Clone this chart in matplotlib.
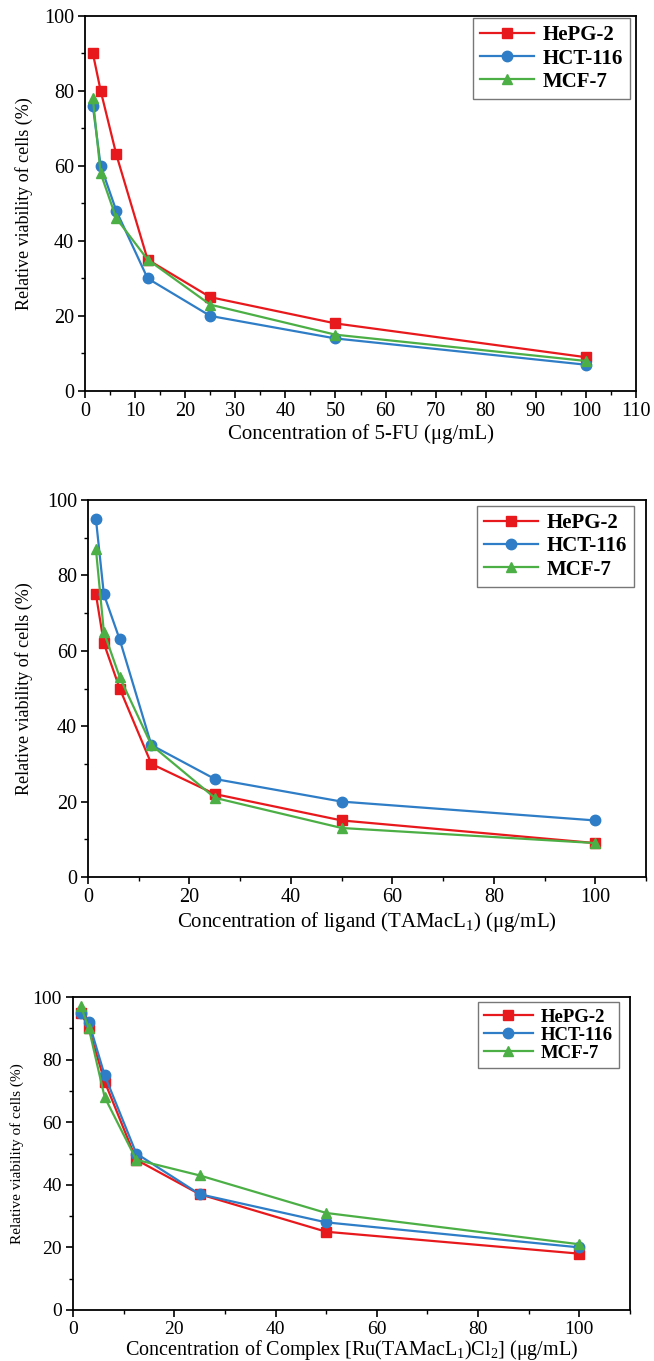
import numpy as np
import matplotlib as mpl
mpl.use("Agg")
from matplotlib import pyplot as plt
from matplotlib.ticker import MultipleLocator

plt.rcParams["font.family"] = ["Liberation Serif", "DejaVu Serif"]
plt.rcParams["mathtext.fontset"] = "custom"
plt.rcParams["mathtext.rm"] = "Liberation Serif"

conc = [1.56, 3.125, 6.25, 12.5, 25, 50, 100]
cells = ["HePG-2", "HCT-116", "MCF-7"]

fu_hepg2 = [90, 80, 63, 35, 25, 18, 9]
fu_hct116 = [76, 60, 48, 30, 20, 14, 7]
fu_mcf7 = [78, 58, 46, 35, 23, 15, 8]

lig_hepg2 = [75, 62, 50, 30, 22, 15, 9]
lig_hct116 = [95, 75, 63, 35, 26, 20, 15]
lig_mcf7 = [87, 65, 53, 35, 21, 13, 9]

cx_hepg2 = [95, 90, 73, 48, 37, 25, 18]
cx_hct116 = [95, 92, 75, 50, 37, 28, 20]
cx_mcf7 = [97, 90, 68, 48, 43, 31, 21]

xlabels = ["Concentration of 5-FU (\u03bcg/mL)",
           "Concentration of ligand (TAMacL$_\\mathregular{1}$) (\u03bcg/mL)",
           "Concentration of Complex [Ru(TAMacL$_\\mathregular{1}$)Cl$_\\mathregular{2}$] (\u03bcg/mL)"]

colors = ["#e8191c", "#2e7dc6", "#4caf46"]
markers = ["s", "o", "^"]

W, H = 654, 1361
fig = plt.figure(figsize=(W / 100, H / 100), dpi=100)


def px_axes(left, right, top, bottom):
    return fig.add_axes([left / W, 1 - bottom / H, (right - left) / W, (bottom - top) / H])


def draw_panel(ax, series, xlabel, xmajor, tfs, xfs, yfs, lfs, ylab_x, leg_anchor, lspace, xpad=2):
    for vals, name, c, m in zip(series, cells, colors, markers):
        ax.plot(conc, vals, color=c, lw=1.6, marker=m, ms=7.5, label=name)
    ax.set_xlim(0, 110)
    ax.set_ylim(0, 100)
    ax.xaxis.set_major_locator(MultipleLocator(xmajor))
    ax.xaxis.set_minor_locator(MultipleLocator(xmajor / 2))
    ax.yaxis.set_major_locator(MultipleLocator(20))
    ax.yaxis.set_minor_locator(MultipleLocator(10))
    ax.tick_params(which="major", direction="out", length=5, width=1.2, labelsize=tfs, pad=3)
    ax.tick_params(which="minor", direction="out", length=3, width=1.0)
    for s in ax.spines.values():
        s.set_linewidth(1.3)
    ax.set_xlabel(xlabel, fontsize=xfs, labelpad=xpad)
    ax.set_ylabel("Relative viability of cells (%)", fontsize=yfs)
    ax.yaxis.set_label_coords(ylab_x, 0.5)
    leg = ax.legend(loc="upper right", bbox_to_anchor=leg_anchor, prop={"weight": "bold", "size": lfs},
                    fancybox=False, edgecolor="#555555", handlelength=2.6,
                    borderaxespad=0.0, labelspacing=lspace, handletextpad=0.4,
                    borderpad=0.35)
    leg.get_frame().set_linewidth(1.0)


ax1 = px_axes(85, 636, 15.6, 391)
draw_panel(ax1, [fu_hepg2, fu_hct116, fu_mcf7], xlabels[0], 10, 14.5, 15, 13, 15,
           -0.095, (1 - 6 / 551, 1 - 2.5 / 375), 0.15)

ax2 = px_axes(88, 646, 500, 877)
draw_panel(ax2, [lig_hepg2, lig_hct116, lig_mcf7], xlabels[1], 20, 14.5, 15, 13, 15,
           -0.098, (1 - 12 / 558, 1 - 6 / 377), 0.15)

ax3 = px_axes(73, 630, 997, 1310)
draw_panel(ax3, [cx_hepg2, cx_hct116, cx_mcf7], xlabels[2], 20, 14, 14.5, 11, 13.5,
           -0.088, (1 - 11 / 557, 1 - 5 / 313), 0.05, xpad=0)

fig.savefig("out.png", dpi=100)
